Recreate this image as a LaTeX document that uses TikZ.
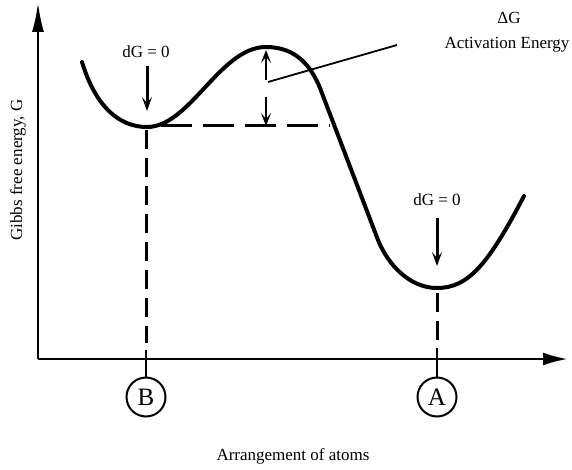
\documentclass[tikz,border=0pt]{standalone}
\usepackage{fontspec}
\setmainfont{Liberation Serif}
\usetikzlibrary{arrows.meta}
\begin{document}
\begin{tikzpicture}[x=1pt,y=-1pt,
  lbl/.style={font=\fontsize{17}{20}\selectfont, inner sep=0pt},
  curve/.style={line width=4pt, line cap=round},
  axis/.style={line width=2.8pt},
  dashh/.style={line width=3pt, dash pattern=on 31pt off 11pt},
  dashv/.style={line width=3pt, dash pattern=on 19pt off 9pt},
  solidv/.style={line width=2.6pt},
  state/.style={draw, circle, line width=2pt, minimum size=39pt, inner sep=0pt, font=\fontsize{25}{28}\selectfont},
  marker/.style={line width=3pt, -{Stealth[length=14pt,width=10pt,inset=6pt]}},
  smallmarker/.style={line width=2.5pt, -{Stealth[length=13pt,width=10pt,inset=6pt]}},
  leader/.style={line width=1.8pt},
]
\useasboundingbox (0,0) rectangle (572,470);
% axes
\coordinate (O) at (38,359);
\coordinate (ytip) at (38,2);
\coordinate (xtip) at (568,359);
\draw[axis, -{Latex[length=30pt,width=12pt]}] (O) -- (ytip);
\draw[axis, -{Latex[length=25pt,width=13pt]}] (O) -- (xtip);
% energy curve
\draw[curve] (82,62) .. controls (95,105) and (118,127) .. (147,127)
  .. controls (190,127) and (220,47) .. (266,47)
  .. controls (296,47) and (311,66) .. (320,88)
  -- (378,240)
  .. controls (388,265) and (410,288) .. (437,288)
  .. controls (468,288) and (488,265) .. (524,196);
% reference level
\coordinate (h1) at (161,126);
\coordinate (h2) at (330,126);
\draw[dashh] (h1) -- (h2);
% states
\node[state] (B) at (146,397) {B};
\node[state] (A) at (437,397) {A};
\coordinate (vB1) at (146,130);
\coordinate (vB2) at (146,343);
\coordinate (vB3) at (146,350);
\draw[dashv] (vB1) -- (vB2);
\draw[solidv] (vB3) -- (B.north);
\coordinate (vA1) at (437,293);
\coordinate (vA2) at (437,340);
\coordinate (vA3) at (437,348);
\draw[dashv] (vA1) -- (vA2);
\draw[solidv] (vA3) -- (A.north);
% dG = 0 labels
\node[lbl] (dgB) at (146,52) {dG = 0};
\node[lbl] (dgA) at (437,200) {dG = 0};
\coordinate (aB1) at (147,66);
\coordinate (aB2) at (147,111);
\coordinate (aA1) at (437,218);
\coordinate (aA2) at (437,266);
\draw[marker] (aB1) -- (aB2);
\draw[marker] (aA1) -- (aA2);
% activation energy
\coordinate (u1) at (266,80);
\coordinate (u2) at (266,50);
\coordinate (d1) at (266,97);
\coordinate (d2) at (266,126);
\draw[smallmarker] (u1) -- (u2);
\draw[smallmarker] (d1) -- (d2);
\coordinate (l1) at (268,82);
\coordinate (l2) at (397,45);
\draw[leader] (l1) -- (l2);
\node[lbl] (dG) at (509,18) {ΔG};
\node[lbl] (act) at (507,45) {Activation Energy};
% axis labels
\node[lbl] (xl) at (293,456) {Arrangement of atoms};
\node[lbl, rotate=90] (yl) at (18,170) {Gibbs free energy, G};
\end{tikzpicture}
\end{document}
